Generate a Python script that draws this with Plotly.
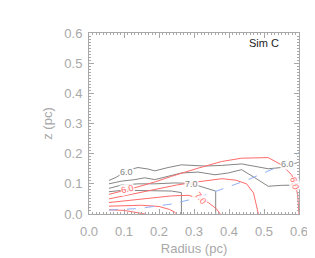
import plotly.graph_objects as go

# Gray contours
g1_x = [0.057, 0.078, 0.112, 0.14, 0.169, 0.188, 0.226, 0.264, 0.331, 0.379, 0.436, 0.512, 0.55, 0.565, 0.6]
g1_y = [0.111, 0.122, 0.146, 0.154, 0.149, 0.143, 0.154, 0.163, 0.159, 0.161, 0.166, 0.150, 0.154, 0.160, 0.172]
g2_x = [0.057, 0.093, 0.131, 0.159, 0.188, 0.226, 0.264, 0.312, 0.36, 0.398, 0.436, 0.474, 0.512, 0.55, 0.6]
g2_y = [0.100, 0.109, 0.114, 0.120, 0.114, 0.125, 0.136, 0.139, 0.130, 0.136, 0.147, 0.120, 0.092, 0.095, 0.096]
g3_x = [0.057, 0.093, 0.14, 0.188, 0.245, 0.274, 0.300, 0.326, 0.362, 0.362]
g3_y = [0.085, 0.096, 0.100, 0.100, 0.103, 0.102, 0.098, 0.089, 0.076, 0.0]
g4_x = [0.057, 0.093, 0.14, 0.188, 0.236, 0.264, 0.264]
g4_y = [0.074, 0.078, 0.078, 0.078, 0.076, 0.071, 0.0]

# Red contours
ra_x = [0.057, 0.09, 0.115, 0.14, 0.19, 0.236, 0.312, 0.379, 0.436, 0.512, 0.55, 0.579, 0.588, 0.596, 0.6]
ra_y = [0.065, 0.074, 0.082, 0.090, 0.107, 0.125, 0.152, 0.174, 0.185, 0.187, 0.163, 0.130, 0.105, 0.065, 0.0]
rb_x = [0.057, 0.10, 0.15, 0.20, 0.25, 0.30, 0.35, 0.38, 0.42, 0.45, 0.47, 0.478, 0.484]
rb_y = [0.050, 0.060, 0.072, 0.085, 0.096, 0.105, 0.113, 0.117, 0.112, 0.100, 0.070, 0.035, 0.0]
rc_x = [0.057, 0.14, 0.236, 0.283, 0.317, 0.341, 0.365, 0.375]
rc_y = [0.038, 0.049, 0.060, 0.062, 0.052, 0.038, 0.016, 0.0]
rd_x = [0.057, 0.10, 0.15, 0.20, 0.23, 0.245, 0.25]
rd_y = [0.026, 0.028, 0.029, 0.025, 0.015, 0.006, 0.0]
re_x = [0.057, 0.10, 0.13, 0.16]
re_y = [0.014, 0.012, 0.006, 0.0]

# Blue dashed line
bl_x = [0.057, 0.14, 0.236, 0.312, 0.379, 0.455, 0.531, 0.6]
bl_y = [0.013, 0.018, 0.033, 0.054, 0.082, 0.114, 0.152, 0.204]

ticks = [0.0, 0.1, 0.2, 0.3, 0.4, 0.5, 0.6]
tick_labels = ["0.0", "0.1", "0.2", "0.3", "0.4", "0.5", "0.6"]

GRAY = "#858585"
RED = "#ff6a6a"
BLUE = "#8fb0f5"
AX = "#a8a8a8"

fig = go.Figure()
for xs, ys in [(g1_x, g1_y), (g2_x, g2_y), (g3_x, g3_y), (g4_x, g4_y)]:
    fig.add_trace(go.Scatter(x=xs, y=ys, mode="lines", line=dict(color=GRAY, width=1), hoverinfo="skip"))
for xs, ys in [(ra_x, ra_y), (rb_x, rb_y), (rc_x, rc_y), (rd_x, rd_y), (re_x, re_y)]:
    fig.add_trace(go.Scatter(x=xs, y=ys, mode="lines", line=dict(color=RED, width=1), hoverinfo="skip"))
fig.add_trace(go.Scatter(x=bl_x, y=bl_y, mode="lines", line=dict(color=BLUE, width=1, dash="dash"), hoverinfo="skip"))

labels = [
    (0.106, 0.140, "6.0", GRAY, 0),
    (0.292, 0.101, "7.0", GRAY, 0),
    (0.567, 0.165, "6.0", GRAY, 0),
    (0.110, 0.082, "6.0", RED, -15),
    (0.318, 0.052, "7.0", RED, 50),
    (0.588, 0.100, "6.0", RED, 75),
]
for lx, ly, t, c, a in labels:
    fig.add_annotation(x=lx, y=ly, xref="x", yref="y", text=t, showarrow=False,
                       font=dict(family="Liberation Sans", size=9, color=c),
                       bgcolor="rgba(255,255,255,0.85)", borderpad=0, textangle=a)

fig.add_annotation(x=0.915, y=0.945, xref="paper", yref="paper", text="Sim C", showarrow=False,
                   xanchor="right", yanchor="middle",
                   font=dict(family="Liberation Sans", size=11, color="#222222"))

axis_common = dict(
    range=[0, 0.6], tickvals=ticks, ticktext=tick_labels, showgrid=False, zeroline=False,
    showline=True, linecolor=AX, linewidth=1, mirror="allticks", automargin=False,
    ticks="inside", ticklen=5, tickcolor=AX, tickwidth=1,
    tickfont=dict(family="Liberation Sans", size=13, color="#a8a8a8"),
    minor=dict(dtick=0.01, ticks="inside", ticklen=2, tickcolor=AX, tickwidth=1, showgrid=False),
)

fig.update_layout(
    width=315, height=258,
    margin=dict(l=81, r=24, t=25, b=52, autoexpand=False),
    paper_bgcolor="white", plot_bgcolor="white",
    showlegend=False,
    xaxis=dict(axis_common, ticklabelstandoff=5,
               title=dict(text="Radius (pc)", standoff=6,
                          font=dict(family="Liberation Sans", size=13, color="#a8a8a8"))),
    yaxis=dict(axis_common, ticklabelstandoff=3,
               title=dict(text="z (pc)", standoff=8,
                          font=dict(family="Liberation Sans", size=13, color="#a8a8a8"))),
)

fig.write_html("out.html")
